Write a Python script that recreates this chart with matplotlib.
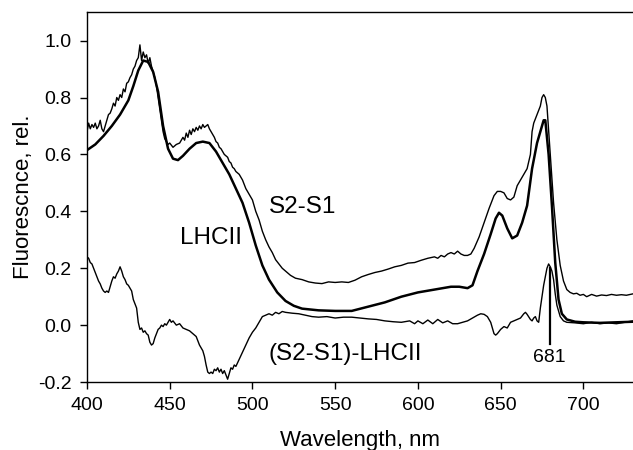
import matplotlib
matplotlib.use("Agg")
import matplotlib.pyplot as plt
from matplotlib.ticker import FuncFormatter

plt.rcParams['font.family'] = ['Liberation Sans', 'DejaVu Sans']

wl_lhc = [400,405,410,415,420,425,428,431,434,437,440,443,446,449,452,455,458,462,466,470,474,478,482,486,490,494,498,502,506,510,515,520,525,530,540,550,560,570,580,590,600,610,620,625,630,633,636,640,644,647,649,651,654,657,660,663,666,669,672,674,676,677,679,681,683,685,687,690,695,700,710,720,730]
lhcii = [0.615,0.635,0.665,0.70,0.74,0.79,0.84,0.895,0.93,0.925,0.89,0.82,0.70,0.62,0.585,0.58,0.595,0.62,0.64,0.645,0.64,0.61,0.57,0.53,0.48,0.43,0.36,0.28,0.21,0.16,0.115,0.085,0.068,0.058,0.052,0.05,0.05,0.065,0.08,0.10,0.115,0.125,0.135,0.135,0.13,0.14,0.19,0.25,0.32,0.375,0.395,0.385,0.34,0.305,0.315,0.36,0.42,0.55,0.64,0.68,0.72,0.72,0.60,0.42,0.22,0.09,0.04,0.02,0.012,0.01,0.008,0.01,0.012]

wl_s = [400,401,402,403,404,405,406,407,408,409,410,411,412,413,414,415,416,417,418,419,420,421,422,423,424,425,426,427,428,429,430,431,432,433,434,435,436,437,438,439,440,441,442,443,444,445,446,447,448,449,450,452,454,456,458,459,460,461,462,463,464,465,466,467,468,469,470,471,472,473,474,475,476,477,478,479,480,481,482,483,484,485,486,487,488,489,490,492,494,496,498,500,502,504,506,508,510,512,514,516,518,520,523,526,530,534,538,542,546,550,554,558,562,566,570,574,578,582,586,590,594,598,602,606,610,612,614,616,618,620,622,624,626,628,630,632,634,637,640,643,646,648,650,652,654,656,658,660,662,664,666,668,669,670,672,674,675,676,677,678,680,682,684,686,688,690,692,694,696,698,700,702,705,708,711,714,717,720,723,726,730]
s2s1 = [0.68,0.71,0.69,0.705,0.695,0.71,0.69,0.70,0.72,0.69,0.68,0.70,0.72,0.74,0.745,0.76,0.78,0.77,0.80,0.79,0.81,0.80,0.83,0.82,0.85,0.855,0.87,0.88,0.90,0.91,0.93,0.94,0.985,0.93,0.96,0.94,0.95,0.92,0.94,0.91,0.89,0.87,0.84,0.80,0.76,0.72,0.68,0.655,0.645,0.635,0.64,0.625,0.635,0.64,0.66,0.65,0.675,0.66,0.685,0.67,0.69,0.68,0.695,0.685,0.70,0.69,0.705,0.695,0.70,0.705,0.69,0.68,0.67,0.66,0.645,0.64,0.625,0.62,0.61,0.60,0.595,0.59,0.575,0.57,0.555,0.55,0.54,0.53,0.51,0.48,0.46,0.44,0.40,0.37,0.33,0.30,0.275,0.255,0.23,0.215,0.20,0.19,0.175,0.165,0.16,0.152,0.148,0.146,0.152,0.15,0.152,0.15,0.158,0.17,0.178,0.185,0.19,0.197,0.205,0.21,0.218,0.22,0.228,0.235,0.24,0.235,0.245,0.24,0.25,0.255,0.25,0.26,0.25,0.245,0.245,0.25,0.27,0.31,0.36,0.41,0.455,0.47,0.47,0.465,0.445,0.44,0.45,0.49,0.51,0.53,0.55,0.60,0.68,0.71,0.74,0.77,0.80,0.81,0.80,0.77,0.60,0.43,0.30,0.21,0.155,0.125,0.115,0.11,0.112,0.105,0.108,0.10,0.108,0.102,0.106,0.104,0.108,0.105,0.107,0.105,0.11]

wl_d = [400,401,402,403,404,405,406,407,408,409,410,411,412,413,414,415,416,417,418,419,420,421,422,423,424,425,426,427,428,429,430,431,432,433,434,435,436,437,438,439,440,441,442,443,444,445,446,447,448,449,450,451,452,454,456,458,460,462,464,466,468,470,471,472,473,474,475,476,477,478,479,480,481,482,483,484,485,486,487,488,489,490,492,494,496,498,500,502,504,506,508,510,512,514,516,518,520,524,528,532,536,540,545,550,555,560,565,570,575,580,585,590,595,598,600,603,606,609,612,615,618,621,624,627,630,633,636,638,640,642,644,646,647,648,650,652,654,656,658,660,662,664,665,666,668,669,670,671,672,673,674,676,678,679,680,681,682,683,684,686,688,690,695,700,705,710,715,720,725,730]
diff = [0.24,0.235,0.22,0.215,0.20,0.185,0.17,0.155,0.145,0.13,0.12,0.115,0.12,0.115,0.135,0.155,0.17,0.165,0.18,0.19,0.205,0.19,0.17,0.16,0.145,0.14,0.13,0.12,0.09,0.075,0.06,0.01,-0.015,-0.01,-0.025,-0.02,-0.03,-0.035,-0.06,-0.07,-0.065,-0.045,-0.03,-0.015,-0.01,0.0,-0.005,0.005,0.0,0.01,0.02,0.01,0.015,0.0,0.005,-0.01,-0.015,-0.02,-0.03,-0.04,-0.07,-0.09,-0.11,-0.14,-0.165,-0.17,-0.165,-0.17,-0.155,-0.16,-0.15,-0.165,-0.155,-0.17,-0.16,-0.175,-0.19,-0.17,-0.15,-0.155,-0.14,-0.145,-0.12,-0.095,-0.07,-0.045,-0.025,-0.01,0.01,0.03,0.035,0.04,0.035,0.045,0.04,0.048,0.045,0.042,0.04,0.035,0.03,0.028,0.03,0.025,0.028,0.028,0.025,0.022,0.02,0.015,0.012,0.01,0.015,0.005,0.015,0.005,0.018,0.005,0.02,0.008,0.015,0.005,0.005,0.01,0.015,0.025,0.035,0.04,0.038,0.03,0.01,-0.03,-0.035,-0.03,-0.015,-0.005,-0.01,0.01,0.015,0.02,0.025,0.04,0.045,0.038,0.02,0.015,0.025,0.03,0.015,0.01,0.06,0.14,0.20,0.215,0.205,0.19,0.16,0.11,0.07,0.03,0.015,0.01,0.008,0.005,0.01,0.005,0.008,0.005,0.01,0.015]

x_ticks = [400,450,500,550,600,650,700]
y_ticks = [-0.2,0.0,0.2,0.4,0.6,0.8,1.0]
marker_wl = 680

fig = plt.figure(figsize=(6.33,4.5), dpi=100)
ax = fig.add_axes([0.1374, 0.151, 0.8626, 0.822])
ax.plot(wl_s, s2s1, color='black', lw=1.0)
ax.plot(wl_lhc, lhcii, color='black', lw=1.8)
ax.plot(wl_d, diff, color='black', lw=1.0)
ax.plot([marker_wl, marker_wl], [0.2, -0.065], color='black', lw=1.6)

ax.set_xlim(400, 730)
ax.set_ylim(-0.2, 1.1)
ax.set_xticks(x_ticks)
ax.set_yticks(y_ticks)
ax.yaxis.set_major_formatter(FuncFormatter(lambda v, p: f"{v:.1f}".replace('\u2212', '-')))
ax.tick_params(direction='out', length=5, width=1, labelsize=14, pad=6)
for s in ax.spines.values():
    s.set_linewidth(1)
ax.spines['right'].set_visible(False)

ax.text(510, 0.415, 'S2-S1', fontsize=17.5, va='center', ha='left')
ax.text(456, 0.305, 'LHCII', fontsize=17.5, va='center', ha='left')
ax.text(510, -0.10, '(S2-S1)-LHCII', fontsize=17.5, va='center', ha='left')
ax.text(679.5, -0.112, '681', fontsize=14, va='center', ha='center')

ax.set_xlabel('Wavelength, nm', fontsize=16, labelpad=11)
ax.set_ylabel('Fluorescnce, rel.', fontsize=16, labelpad=3)

fig.savefig('out.png', dpi=100)
